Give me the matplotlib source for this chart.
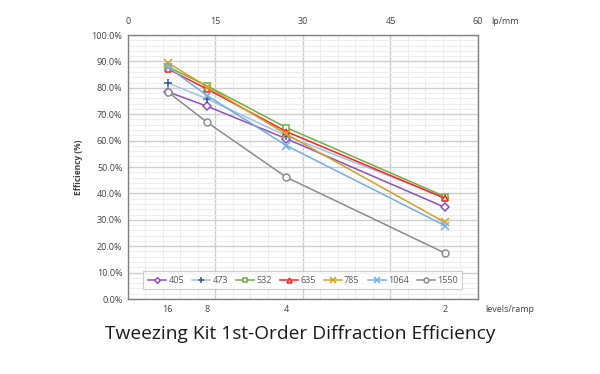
import numpy as np
import matplotlib.pyplot as plt
from matplotlib.ticker import MultipleLocator, FuncFormatter

plt.rcParams['font.family'] = ['Open Sans', 'DejaVu Sans']

# spatial frequency (lp/mm) for each levels/ramp setting
levels = [16, 8, 4, 2]
lpmm = [6.79, 13.59, 27.17, 54.35]

wavelengths = ['405', '473', '532', '635', '785', '1064', '1550']
eff_405 = [78.5, 73.0, 60.7, 34.7]
eff_473 = [81.9, 75.8, 61.8, 38.4]
eff_532 = [88.0, 80.7, 64.9, 38.8]
eff_635 = [87.2, 79.5, 63.4, 38.1]
eff_785 = [89.5, 80.4, 62.4, 29.0]
eff_1064 = [88.0, 77.0, 58.1, 27.8]
eff_1550 = [78.5, 66.9, 46.1, 17.4]
series = [eff_405, eff_473, eff_532, eff_635, eff_785, eff_1064, eff_1550]

line_colors = ['#8E4FC2', '#9DC3E6', '#70AD47', '#FF2020', '#D4A020', '#6FAEE6', '#8C8C8C']
mark_colors = ['#8E4FC2', '#2F5597', '#70AD47', '#FF2020', '#D4A020', '#6FAEE6', '#8C8C8C']
markers = ['D', '+', 's', '^', 'x', 'x', 'o']
filled = [False, True, False, False, True, True, False]
msizes = [4, 6, 5, 5, 6, 6, 5]

fig = plt.figure(figsize=(6, 3.74), dpi=100)
ax = fig.add_axes([0.2133, 0.2005, 0.5833, 0.7059])

for vals, name, lc, mc, m, f, ms in zip(series, wavelengths, line_colors, mark_colors, markers, filled, msizes):
    ax.plot(lpmm, vals, color=lc, lw=1.1, marker=m, markersize=ms,
            markeredgecolor=mc, markerfacecolor=(mc if f else 'white'),
            markeredgewidth=1.1, label=name, zorder=3)

ax.set_xlim(0, 60)
ax.set_ylim(0, 100)
ax.yaxis.set_major_locator(MultipleLocator(10))
ax.yaxis.set_minor_locator(MultipleLocator(2))
ax.yaxis.set_major_formatter(FuncFormatter(lambda v, p: f'{v:.1f}%'))
ax.xaxis.set_major_locator(MultipleLocator(15))
ax.xaxis.set_minor_locator(MultipleLocator(3))
ax.grid(which='major', color='#CDCDCD', lw=1.0, zorder=0)
ax.grid(which='minor', color='#EDEDED', lw=0.8, zorder=0)
ax.set_axisbelow(True)

ax.xaxis.tick_top()
ax.tick_params(which='both', length=0, labelsize=6.5, colors='#404040', pad=4)
ax.set_xticklabels([])
for v in [0, 15, 30, 45, 60]:
    ax.text(v, 103.5, str(v), ha='center', va='bottom', fontsize=6.5, color='#404040')
ax.text(62.2, 103.5, 'lp/mm', ha='left', va='bottom', fontsize=6.5, color='#404040')

for lv, x in zip(levels, lpmm):
    ax.text(x, -2.2, str(lv), ha='center', va='top', fontsize=6.5, color='#404040')
ax.text(65.5, -2.2, 'levels/ramp', ha='center', va='top', fontsize=6.5, color='#404040')

for s in ax.spines.values():
    s.set_color('#808080')
    s.set_linewidth(1.0)

ax.set_ylabel('Efficiency (%)', fontsize=6, fontweight='bold', color='#404040', labelpad=6)

leg = ax.legend(loc='lower center', bbox_to_anchor=(0.5, 0.02), ncol=7, fontsize=6.5,
                frameon=True, fancybox=False, edgecolor='#C0C0C0', handlelength=2.0,
                columnspacing=0.9, handletextpad=0.25, borderpad=0.5, markerscale=0.7)
leg.get_frame().set_linewidth(0.8)
for t in leg.get_texts():
    t.set_color('#595959')

fig.text(0.5, 0.108, 'Tweezing Kit 1st-Order Diffraction Efficiency', ha='center', va='center',
         fontsize=13.8, color='#1A1A1A')

fig.savefig('out.png', dpi=100)
